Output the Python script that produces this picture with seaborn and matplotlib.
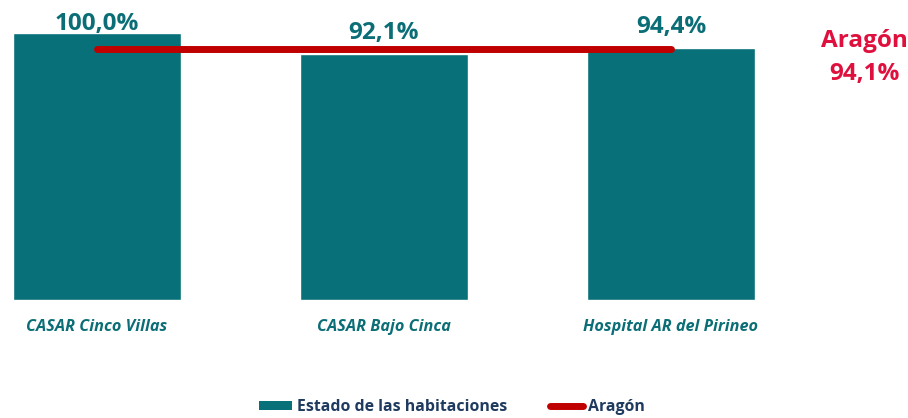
import matplotlib
matplotlib.use("Agg")
import matplotlib.pyplot as plt
import seaborn as sns
import pandas as pd
from matplotlib.patches import Patch
from matplotlib.lines import Line2D

categories = ["CASAR Cinco Villas", "CASAR Bajo Cinca", "Hospital AR del Pirineo"]
values = [100.0, 92.1, 94.4]
aragon_value = 94.1
series_name = "Estado de las habitaciones"
ref_name = "Aragón"

BAR = "#077078"
LABEL = "#0B6E76"
LINE = "#C00000"
ARAGON_TXT = "#E0103E"
LEG_TXT = "#1F3A5F"

sns.set_theme(style="white")
plt.rcParams["font.family"] = ["Open Sans", "DejaVu Sans"]

df = pd.DataFrame({"cat": categories, "val": values})

fig = plt.figure(figsize=(9.08, 4.18), dpi=100)
ax = fig.add_axes([0, 118 / 418, 1, 300 / 418])

sns.barplot(data=df, x="cat", y="val", color=BAR, width=0.585, saturation=1,
            ax=ax, zorder=2)
ax.set_xlim(-97 / 287, (908 - 97) / 287)
ax.set_ylim(0, 112.4)

ax.hlines(aragon_value, 0, len(categories) - 1, color=LINE, lw=5,
          capstyle="round", zorder=3)
for coll in ax.collections:
    coll.set_capstyle("round")

offsets = [3, 15, 15]
for i, (v, off) in enumerate(zip(values, offsets)):
    ax.annotate(f"{v:.1f}%".replace(".", ","), (i, v), xytext=(0, off),
                textcoords="offset pixels", ha="center", va="baseline",
                fontsize=17.5, fontweight="bold", color=LABEL)

ax.set_xticks(range(len(categories)))
ax.set_xticklabels(categories, fontsize=11.7, fontweight="bold",
                   fontstyle="italic", color=LABEL)
ax.tick_params(axis="x", length=0, pad=13.5)
ax.set_yticks([])
ax.set_xlabel("")
ax.set_ylabel("")
for s in ax.spines.values():
    s.set_visible(False)

fig.text(864 / 908, 1 - 47 / 418, ref_name, ha="center", va="baseline",
         fontsize=17.5, fontweight="bold", color=ARAGON_TXT)
fig.text(864 / 908, 1 - 80 / 418, f"{aragon_value:.1f}%".replace(".", ","),
         ha="center", va="baseline", fontsize=17.5, fontweight="bold",
         color=ARAGON_TXT)

handles = [Patch(facecolor=BAR, edgecolor="none"),
           Line2D([0], [0], color=LINE, lw=5, solid_capstyle="round")]
leg = fig.legend(handles, [series_name, ref_name], loc="center",
                 bbox_to_anchor=(452 / 908, 1 - 407 / 418), ncol=2, frameon=False,
                 handlelength=2.1, handleheight=0.56, handletextpad=0.3,
                 columnspacing=2.7, prop={"size": 11.4, "weight": "bold"})
for t in leg.get_texts():
    t.set_color(LEG_TXT)

fig.savefig("out.png", dpi=100)
